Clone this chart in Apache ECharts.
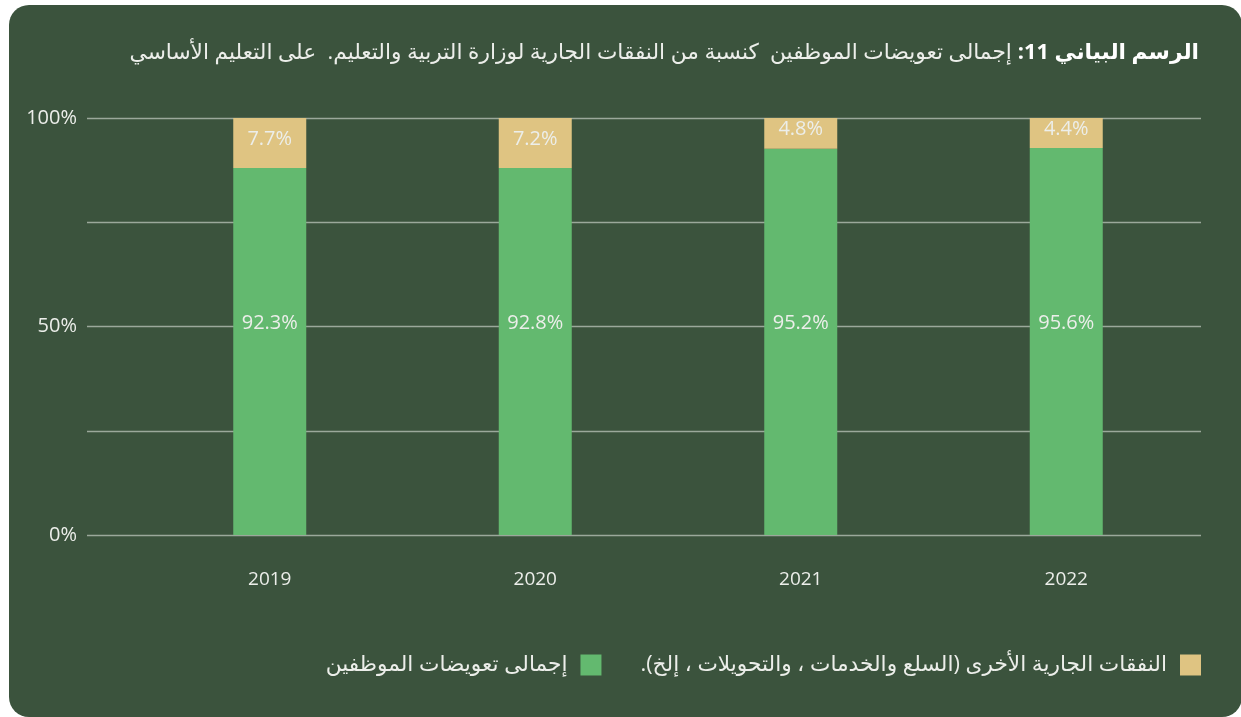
<!DOCTYPE html>
<html>
<head>
    <meta charset="UTF-8">
    <title>الرسم البياني 11</title>
    <script src="https://cdn.jsdelivr.net/npm/echarts/dist/echarts.min.js"></script>
    <style>
        html, body {
            margin: 0;
            padding: 0;
            background: #ffffff;
            width: 1241px;
            height: 717px;
            overflow: hidden;
        }
        .card {
            position: absolute;
            left: 9px;
            top: 5px;
            width: 1233px;
            height: 712px;
            border-radius: 20px;
            background: #3b533d;
        }
        #chart {
            position: absolute;
            left: 0;
            top: 0;
            width: 1241px;
            height: 717px;
        }
    </style>
</head>
<body>
    <div class="card"></div>
    <div id="chart" dir="rtl"></div>

    <script>
        const years = ['2019', '2020', '2021', '2022'];
        // bar heights as drawn in the picture
        const staffComp = [88.0, 88.0, 92.6, 92.8];
        const otherCurrent = [12.0, 12.0, 7.4, 7.2];
        // values printed on the bars
        const staffLabels = ['92.3%', '92.8%', '95.2%', '95.6%'];
        const otherLabels = ['7.7%', '7.2%', '4.8%', '4.4%'];
        const yTicks = { 0: '0%', 50: '50%', 100: '100%' };

        const nameStaff = 'إجمالى تعويضات الموظفين';
        const nameOther = 'النفقات الجارية الأخرى (السلع والخدمات ، والتحويلات ، إلخ).';
        const titleBold = 'الرسم البياني 11:';
        const titleRest = 'إجمالى تعويضات الموظفين  كنسبة من النفقات الجارية لوزارة التربية والتعليم.  على التعليم الأساسي';

        const font = "'Open Sans', 'Noto Sans', 'DejaVu Sans', sans-serif";
        const textColor = '#eceeea';
        const green = '#63b96f';
        const tan = '#dfc482';

        const chart = echarts.init(document.getElementById('chart'));
        const option = {
            textStyle: { fontFamily: font },
            title: {
                text: '{r|' + titleRest + '}{s| }{b|' + titleBold + '}',
                right: 37,
                top: 37,
                textStyle: {
                    fontWeight: 'normal',
                    rich: {
                        r: { fontSize: 21.7, color: textColor, fontWeight: 'normal', fontFamily: font },
                        s: { width: 6, fontSize: 21.7 },
                        b: { fontSize: 21.7, color: '#ffffff', fontWeight: 'bold', fontFamily: font }
                    }
                }
            },
            legend: {
                data: [nameStaff, nameOther],
                right: 35,
                top: 649,
                align: 'right',
                itemWidth: 21,
                itemHeight: 21,
                itemGap: 39,
                icon: 'rect',
                textStyle: {
                    color: textColor,
                    fontSize: 21.7,
                    fontFamily: font,
                    padding: [0, 8, 0, 0]
                }
            },
            grid: [
                { left: 87, right: 40, top: 118, bottom: 182 },
                { left: 137, right: 42, top: 118, bottom: 182 }
            ],
            xAxis: [
                { type: 'category', gridIndex: 0, data: years, show: false },
                {
                    type: 'category',
                    gridIndex: 1,
                    data: years,
                    axisLine: { show: false },
                    axisTick: { show: false },
                    axisLabel: { color: textColor, fontSize: 19, margin: 35, fontFamily: font }
                }
            ],
            yAxis: [
                {
                    type: 'value',
                    gridIndex: 0,
                    min: 0,
                    max: 100,
                    interval: 25,
                    axisLine: { show: false },
                    axisTick: { show: false },
                    splitLine: { lineStyle: { color: '#9ba89b', width: 1.3 } },
                    axisLabel: {
                        color: textColor,
                        fontSize: 20,
                        margin: 10,
                        fontFamily: font,
                        formatter: v => yTicks[v] || ''
                    }
                },
                { type: 'value', gridIndex: 1, min: 0, max: 100, show: false }
            ],
            series: [
                {
                    name: nameStaff,
                    type: 'bar',
                    stack: 'total',
                    xAxisIndex: 1,
                    yAxisIndex: 1,
                    barWidth: 73,
                    itemStyle: { color: green },
                    data: staffComp.map((v, i) => ({
                        value: v,
                        label: {
                            show: true,
                            // centre the label on the 50% line
                            position: ['50%', ((v - 50) / v * 100) + '%'],
                            align: 'center',
                            verticalAlign: 'middle',
                            offset: [0, -3],
                            color: textColor,
                            fontSize: 20,
                            fontFamily: font,
                            formatter: staffLabels[i]
                        }
                    }))
                },
                {
                    name: nameOther,
                    type: 'bar',
                    stack: 'total',
                    xAxisIndex: 1,
                    yAxisIndex: 1,
                    barWidth: 73,
                    itemStyle: { color: tan },
                    label: {
                        show: true,
                        position: 'inside',
                        offset: [0, -4],
                        color: textColor,
                        fontSize: 20,
                        fontFamily: font,
                        formatter: p => otherLabels[p.dataIndex]
                    },
                    data: otherCurrent
                }
            ]
        };
        chart.setOption(option);
    </script>
</body>
</html>
